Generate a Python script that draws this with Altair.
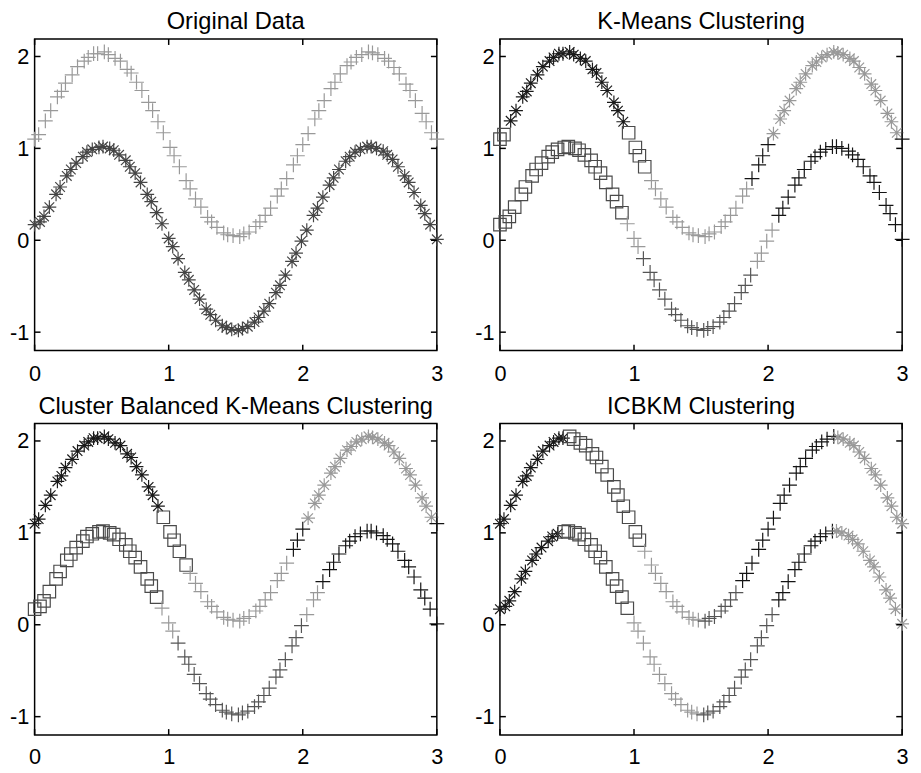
import altair as alt
import numpy as np
import pandas as pd

# ---------------- data ----------------
U_X = [0.00, 0.03, 0.08, 0.12, 0.17, 0.20, 0.23, 0.28, 0.32, 0.37, 0.40, 0.44, 0.47, 0.52, 0.55, 0.60,
       0.64, 0.69, 0.72, 0.76, 0.80, 0.85, 0.88, 0.92, 0.96, 1.01, 1.04, 1.08, 1.13, 1.16, 1.20, 1.24,
       1.29, 1.32, 1.36, 1.41, 1.44, 1.48, 1.53, 1.56, 1.60, 1.65, 1.68, 1.72, 1.76, 1.81, 1.84, 1.88,
       1.93, 1.96, 2.00, 2.04, 2.09, 2.12, 2.16, 2.21, 2.24, 2.28, 2.33, 2.36, 2.40, 2.44, 2.49, 2.52,
       2.56, 2.61, 2.64, 2.68, 2.72, 2.77, 2.80, 2.84, 2.89, 2.92, 2.96, 3.00]
U_Y = [1.10, 1.15, 1.30, 1.41, 1.56, 1.62, 1.71, 1.80, 1.89, 1.95, 1.99, 2.03, 2.03, 2.05, 2.02, 1.98,
       1.95, 1.86, 1.82, 1.72, 1.63, 1.50, 1.41, 1.29, 1.17, 1.01, 0.92, 0.80, 0.65, 0.56, 0.45, 0.36,
       0.25, 0.20, 0.14, 0.08, 0.06, 0.05, 0.04, 0.07, 0.09, 0.15, 0.20, 0.27, 0.35, 0.48, 0.56, 0.67,
       0.82, 0.92, 1.04, 1.16, 1.32, 1.41, 1.52, 1.65, 1.72, 1.81, 1.90, 1.94, 1.99, 2.02, 2.05, 2.04,
       2.02, 1.98, 1.95, 1.88, 1.81, 1.70, 1.63, 1.52, 1.38, 1.29, 1.17, 1.10]
L_X = [0.00, 0.04, 0.07, 0.11, 0.16, 0.19, 0.24, 0.27, 0.31, 0.36, 0.39, 0.43, 0.48, 0.51, 0.56, 0.59,
       0.63, 0.68, 0.71, 0.75, 0.79, 0.84, 0.87, 0.91, 0.95, 1.00, 1.03, 1.07, 1.12, 1.15, 1.19, 1.23,
       1.28, 1.31, 1.35, 1.40, 1.43, 1.47, 1.52, 1.55, 1.59, 1.64, 1.67, 1.71, 1.75, 1.80, 1.83, 1.87,
       1.92, 1.95, 1.99, 2.03, 2.08, 2.11, 2.15, 2.20, 2.23, 2.27, 2.32, 2.35, 2.39, 2.43, 2.48, 2.51,
       2.55, 2.60, 2.63, 2.67, 2.71, 2.76, 2.79, 2.83, 2.88, 2.91, 2.95, 3.00]
L_Y = [0.17, 0.20, 0.26, 0.36, 0.50, 0.58, 0.70, 0.77, 0.84, 0.91, 0.96, 0.99, 1.01, 1.02, 1.00, 0.98,
       0.93, 0.87, 0.80, 0.73, 0.63, 0.50, 0.42, 0.30, 0.18, 0.02, -0.07, -0.20, -0.35, -0.43, -0.54, -0.64,
       -0.75, -0.81, -0.87, -0.93, -0.95, -0.97, -0.98, -0.96, -0.94, -0.89, -0.84, -0.77, -0.69, -0.57, -0.49, -0.38,
       -0.23, -0.14, -0.01, 0.11, 0.27, 0.35, 0.47, 0.60, 0.68, 0.77, 0.86, 0.91, 0.96, 0.99, 1.02, 1.02,
       1.00, 0.97, 0.93, 0.88, 0.80, 0.70, 0.63, 0.52, 0.38, 0.29, 0.17, 0.01]

TITLES = ["Original Data", "K-Means Clustering",
          "Cluster Balanced K-Means Clustering", "ICBKM Clustering"]

# cluster membership along x, per curve, per panel
OR_U_EDGES, OR_U_STYLES = [0, 3.01], ["C"]
OR_L_EDGES, OR_L_STYLES = [0, 3.01], ["G"]
KM_U_EDGES, KM_U_STYLES = [0, 0.05, 0.93, 1.10, 1.86, 2.03, 2.97, 3.01], ["B", "A", "B", "C", "E", "F", "E"]
KM_L_EDGES, KM_L_STYLES = [0, 0.92, 1.06, 1.89, 2.04, 3.01], ["B", "C", "D", "C", "E"]
CB_U_EDGES, CB_U_STYLES = [0, 0.94, 1.14, 1.92, 2.03, 2.97, 3.01], ["A", "B", "C", "E", "F", "E"]
CB_L_EDGES, CB_L_STYLES = [0, 0.92, 1.04, 2.00, 2.12, 3.01], ["B", "C", "D", "C", "E"]
IC_U_EDGES, IC_U_STYLES = [0, 0.50, 1.06, 1.50, 1.78, 2.50, 3.01], ["A", "B", "C", "D", "E", "F"]
IC_L_EDGES, IC_L_STYLES = [0, 0.47, 0.97, 1.50, 2.05, 2.50, 3.01], ["A", "B", "C", "D", "E", "F"]

X_TICKS = [0, 1, 2, 3]
Y_TICKS = [-1, 0, 1, 2]

# ---------------- styles ----------------
PLUS = "M-1,0L1,0M0,-1L0,1"
STAR = "M-1,0L1,0M0,-1L0,1M-0.7,-0.7L0.7,0.7M-0.7,0.7L0.7,-0.7"
STYLES = ["A", "B", "C", "D", "E", "F", "G"]
STYLE_COLORS = ["#1a1a1a", "#4a4a4a", "#999999", "#555555", "#141414", "#999999", "#454545"]
STYLE_SHAPES = [STAR, "square", PLUS, PLUS, PLUS, STAR, STAR]
STYLE_SIZES = [196, 160, 225, 225, 225, 196, 196]

W, H = 408, 316
FONT = "Liberation Sans"
XS = alt.Scale(domain=[0, 3], nice=False, zero=False)
YS = alt.Scale(domain=[-1.2, 2.19], nice=False, zero=False)
TL = 6


def assign(xs, edges, styles):
    idx = np.searchsorted(edges, xs, side="right") - 1
    idx = np.clip(idx, 0, len(styles) - 1)
    return [styles[i] for i in idx]


def axis(vals, pad):
    return alt.Axis(values=vals, labelExpr="'' + datum.value", labelFontSize=22, labelFont=FONT,
                    labelColor="black", ticks=False, domain=False, grid=False,
                    labelFlush=False, labelPadding=pad, title=None)


YA = axis(Y_TICKS, 6)


def panel(title, ue, us, le, ls, xpad):
    XA = axis(X_TICKS, xpad)
    df = pd.DataFrame({
        "x": U_X + L_X,
        "y": U_Y + L_Y,
        "style": assign(U_X, ue, us) + assign(L_X, le, ls),
    })
    df["msize"] = df["style"].map(dict(zip(STYLES, STYLE_SIZES)))
    pts = alt.Chart(df).mark_point(filled=False, strokeWidth=1.2, opacity=1).encode(
        x=alt.X("x:Q", scale=XS, axis=XA),
        y=alt.Y("y:Q", scale=YS, axis=YA),
        color=alt.Color("style:N", scale=alt.Scale(domain=STYLES, range=STYLE_COLORS), legend=None),
        shape=alt.Shape("style:N", scale=alt.Scale(domain=STYLES, range=STYLE_SHAPES), legend=None),
        size=alt.Size("msize:Q", scale=None),
    )
    xt = pd.DataFrame({"t": X_TICKS})
    yt = pd.DataFrame({"t": Y_TICKS})
    rk = dict(color="black", strokeWidth=1.5)
    xb = alt.Chart(xt).mark_rule(**rk).encode(
        x=alt.X("t:Q", scale=XS, axis=XA), y=alt.value(H), y2=alt.value(H - TL))
    xtop = alt.Chart(xt).mark_rule(**rk).encode(
        x=alt.X("t:Q", scale=XS, axis=XA), y=alt.value(0), y2=alt.value(TL))
    yl = alt.Chart(yt).mark_rule(**rk).encode(
        y=alt.Y("t:Q", scale=YS, axis=YA), x=alt.value(0), x2=alt.value(TL))
    yr = alt.Chart(yt).mark_rule(**rk).encode(
        y=alt.Y("t:Q", scale=YS, axis=YA), x=alt.value(W - TL), x2=alt.value(W))
    return alt.layer(pts, xb, xtop, yl, yr).properties(
        width=W, height=H,
        title=alt.TitleParams(text=title, fontSize=24, font=FONT, fontWeight="normal",
                              color="black", offset=4, anchor="middle", frame="group"),
    )


p1 = panel(TITLES[0], OR_U_EDGES, OR_U_STYLES, OR_L_EDGES, OR_L_STYLES, 13)
p2 = panel(TITLES[1], KM_U_EDGES, KM_U_STYLES, KM_L_EDGES, KM_L_STYLES, 13)
p3 = panel(TITLES[2], CB_U_EDGES, CB_U_STYLES, CB_L_EDGES, CB_L_STYLES, 12)
p4 = panel(TITLES[3], IC_U_EDGES, IC_U_STYLES, IC_L_EDGES, IC_L_STYLES, 12)

chart = alt.vconcat(
    alt.hconcat(p1, p2, spacing=26),
    alt.hconcat(p3, p4, spacing=26),
    spacing=9,
).properties(padding={"left": 0, "top": -4, "right": 0, "bottom": -4},
             background="white").configure_view(
    stroke="black", strokeWidth=1.5
)

chart.save("out.html", embed_options={"renderer": "svg", "actions": False})
